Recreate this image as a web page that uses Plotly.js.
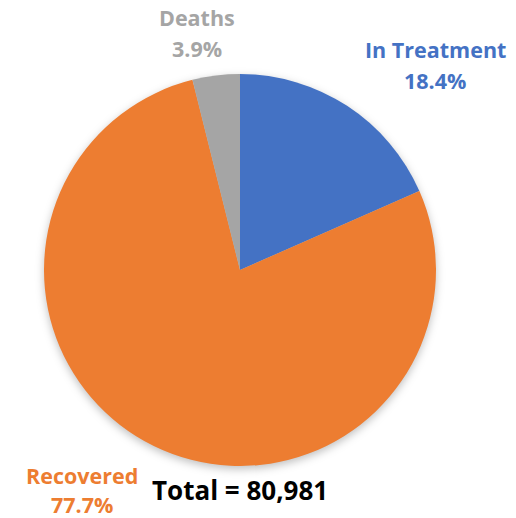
<!DOCTYPE html>
<html><head><meta charset="utf-8">
<script src="https://cdn.plot.ly/plotly-3.0.1.min.js"></script>
<style>html,body{margin:0;padding:0;background:#fff;}#chart{width:516px;height:518px;}
.pielayer{filter:drop-shadow(0px 3px 4px rgba(0,0,0,0.25));}</style>
</head><body><div id="chart"></div>
<script>
const categories = ["In Treatment", "Recovered", "Deaths"];
const percents = [18.4, 77.7, 3.9];
const colors = ["#4472C4", "#ED7D31", "#A5A5A5"];
const totalLabel = "Total = 80,981";

const labelPos = [
  {x: 435, y1: 49, y2: 80},
  {x: 82, y1: 475, y2: 504},
  {x: 197, y1: 17, y2: 48}
];
const W = 516, H = 518;
const font = "Open Sans, sans-serif";

const annotations = [];
categories.forEach((c, i) => {
  [[c, labelPos[i].y1], [percents[i].toFixed(1) + "%", labelPos[i].y2]].forEach(([t, y]) => {
    annotations.push({
      text: "<b>" + t + "</b>",
      x: labelPos[i].x / W, y: 1 - y / H,
      xref: "paper", yref: "paper", showarrow: false,
      xanchor: "center", yanchor: "middle",
      font: {family: font, size: 21.5, color: colors[i]}
    });
  });
});
annotations.push({
  text: "<b>" + totalLabel + "</b>",
  x: 240 / W, y: 1 - 490 / H, xref: "paper", yref: "paper", showarrow: false,
  xanchor: "center", yanchor: "middle",
  font: {family: font, size: 26, color: "#000"}
});

const cx = 240, cy = 270, r = 196;
Plotly.newPlot("chart", [{
  type: "pie",
  labels: categories,
  values: percents,
  sort: false,
  direction: "clockwise",
  rotation: 0,
  textinfo: "none",
  hoverinfo: "none",
  marker: {colors: colors, line: {width: 0}},
  domain: {x: [(cx - r) / W, (cx + r) / W], y: [1 - (cy + r) / H, 1 - (cy - r) / H]},
  showlegend: false
}], {
  width: W, height: H,
  margin: {l: 0, r: 0, t: 0, b: 0},
  paper_bgcolor: "#fff",
  showlegend: false,
  annotations: annotations
}, {displayModeBar: false, staticPlot: true});
</script></body></html>
